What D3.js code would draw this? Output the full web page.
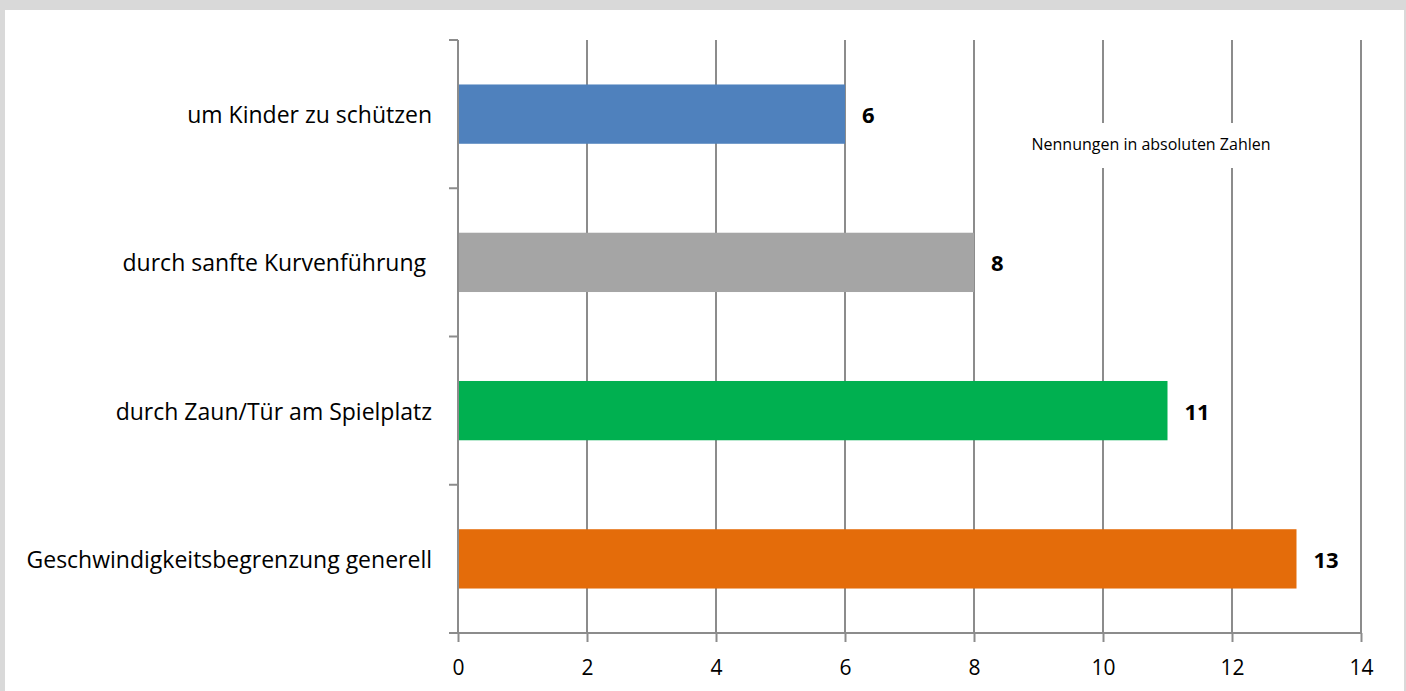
<!DOCTYPE html>
<html><head><meta charset="utf-8">
<script src="https://cdn.jsdelivr.net/npm/d3@7"></script>
<style>
html,body{margin:0;padding:0;background:#d9d9d9;}
svg{display:block;}
text{font-family:"Open Sans",sans-serif;fill:#000;white-space:pre;}
</style></head>
<body>
<svg id="chart" width="1406" height="691"></svg>
<script>
const categories = ["um Kinder zu schützen","durch sanfte Kurvenführung ","durch Zaun/Tür am Spielplatz","Geschwindigkeitsbegrenzung generell"];
const values = [6, 8, 11, 13];
const colors = ["#4f81bd","#a5a5a5","#00b050","#e46c0a"];
const xTicks = [0,2,4,6,8,10,12,14];
const note = "Nennungen in absoluten Zahlen";

const svg = d3.select("#chart");
svg.append("rect").attr("x",5).attr("y",10).attr("width",1399).attr("height",690).attr("fill","#fff");

const x = d3.scaleLinear().domain([0,14]).range([458,1361]);
const y = d3.scaleBand().domain(categories).range([40,633]).paddingInner(0.6).paddingOuter(0.3);
const grid = "#8c8c8c";

// gridlines
svg.append("g").selectAll("line").data(xTicks.slice(1)).join("line")
  .attr("x1",d=>x(d)).attr("x2",d=>x(d)).attr("y1",40).attr("y2",633)
  .attr("stroke",grid).attr("stroke-width",2);

// annotation box (covers gridlines)
svg.append("rect").attr("x",1022).attr("y",123).attr("width",258).attr("height",45).attr("fill","#fff");
svg.append("text").attr("x",1151).attr("y",150).attr("text-anchor","middle")
  .style("font-size","16px").text(note);

// bars
svg.append("g").selectAll("rect").data(categories).join("rect")
  .attr("x",x(0)).attr("y",d=>y(d)).attr("width",(d,i)=>x(values[i])-x(0))
  .attr("height",y.bandwidth()).attr("fill",(d,i)=>colors[i]);

// value labels
svg.append("g").selectAll("text").data(categories).join("text")
  .attr("x",(d,i)=>x(values[i])+17).attr("y",d=>y(d)+y.bandwidth()/2+9)
  .style("font-size","22px").style("font-weight","bold")
  .text((d,i)=>values[i]);

// x axis
const xAxis = svg.append("g").attr("transform","translate(0,633)")
  .call(d3.axisBottom(x).tickValues(xTicks).tickSize(9).tickPadding(18).tickSizeOuter(0));
xAxis.select(".domain").remove();
xAxis.selectAll(".tick line").attr("stroke",grid).attr("stroke-width",2);
xAxis.selectAll(".tick text").style("font-size","21px").style("font-family","'Open Sans',sans-serif");
svg.append("line").attr("x1",449).attr("x2",1362).attr("y1",633).attr("y2",633).attr("stroke",grid).attr("stroke-width",2);

// y axis line & ticks at band boundaries
const step = y.step();
const bounds = d3.range(categories.length+1).map(i=>40+i*step);
svg.append("line").attr("x1",458).attr("x2",458).attr("y1",40).attr("y2",633).attr("stroke",grid).attr("stroke-width",2);
svg.append("g").selectAll("line").data(bounds).join("line")
  .attr("x1",449).attr("x2",458).attr("y1",d=>d).attr("y2",d=>d).attr("stroke",grid).attr("stroke-width",2);

// category labels
svg.append("g").selectAll("text").data(categories).join("text")
  .attr("x",432).attr("y",d=>y(d)+y.bandwidth()/2+9).attr("text-anchor","end")
  .style("font-size","23px").text(d=>d);
</script>
</body></html>
